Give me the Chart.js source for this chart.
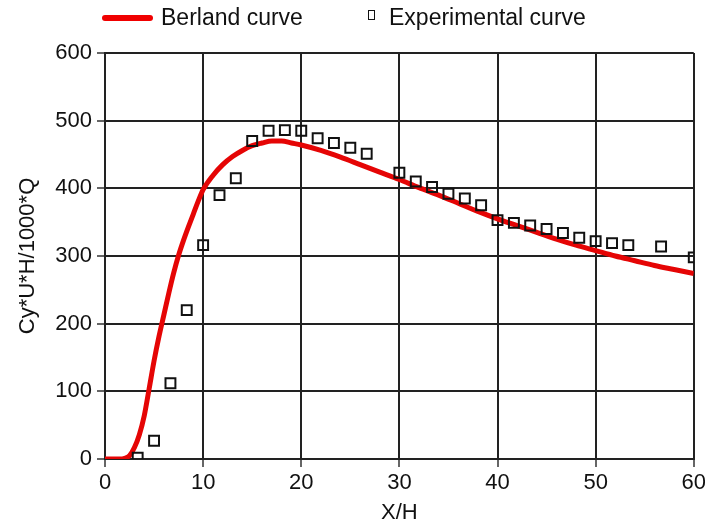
<!DOCTYPE html>
<html>
<head>
<meta charset="utf-8">
<script src="https://cdn.jsdelivr.net/npm/chart.js@4"></script>
<style>
  body { margin: 0; background: #fff; overflow: hidden; }
  #wrap { position: relative; width: 705px; height: 524px; overflow: hidden; }
  #legend { position: absolute; top: 0; left: 0; width: 705px; height: 36px;
    font-family: "Liberation Sans", Arial, sans-serif; font-size: 23px; color: #111; }
  .item { position: absolute; top: 4px; line-height: 26px; white-space: nowrap; }
  .swatch-line { position: absolute; left: 102px; top: 15px; width: 51px; height: 6px;
    border-radius: 3px; background: #f00000; }
  .swatch-box { position: absolute; left: 368px; top: 10px; width: 5px; height: 8px;
    border: 1.5px solid #111; }
</style>
</head>
<body>
<div id="wrap">
  <canvas id="chart" width="709" height="524"></canvas>
  <div id="legend">
    <span class="swatch-line"></span>
    <span class="item" style="left:161px">Berland curve</span>
    <span class="swatch-box"></span>
    <span class="item" style="left:389px">Experimental curve</span>
  </div>
</div>
<script>
// Berland curve
const berlandX = [0, 1, 1.5, 2, 2.5, 3, 3.5, 4, 4.5, 5, 5.5, 6, 6.5, 7, 7.5, 8, 8.5, 9, 9.5, 10,
  11, 12, 13, 14, 15, 16, 17, 18, 19, 20, 22, 24, 26, 28, 30, 32, 34, 36, 38, 40,
  42, 44, 46, 48, 50, 52, 54, 56, 58, 60];
const berlandY = [0, 0, 0, 1, 5, 17, 36, 64, 104, 145, 181, 213, 245, 275, 301, 323, 343, 362, 381, 398,
  419, 435, 447, 456, 463, 467, 470, 470, 467, 464, 456, 446, 435, 424, 413, 401, 390, 378, 366, 355,
  345, 335, 325, 316, 308, 300, 293, 286, 280, 274];

// experimental points
const expX = [3.33, 5, 6.67, 8.33, 10, 11.67, 13.33, 15, 16.67, 18.33, 20, 21.67, 23.33, 25, 26.67,
  30, 31.67, 33.33, 35, 36.67, 38.33, 40, 41.67, 43.33, 45, 46.67, 48.33, 50, 51.67, 53.33, 56.67, 60];
const expY = [2, 27, 112, 220, 316, 390, 415, 470, 485, 486, 485, 474, 467, 460, 451,
  423, 410, 402, 392, 385, 375, 353, 349, 345, 340, 334, 327, 322, 319, 316, 314, 298];

const xTicks = [0, 10, 20, 30, 40, 50, 60];
const yTicks = [0, 100, 200, 300, 400, 500, 600];

const font = "'Liberation Sans', Arial, sans-serif";
const gridColor = "#222";

const ctx = document.getElementById("chart").getContext("2d");
new Chart(ctx, {
  type: "scatter",
  data: {
    datasets: [
      {
        label: "Experimental curve",
        data: expX.map((x, i) => ({ x: x, y: expY[i] })),
        showLine: false,
        pointStyle: "rect",
        pointRadius: 7,
        pointBorderWidth: 2,
        pointBorderColor: "#111",
        pointBackgroundColor: "rgba(0,0,0,0)",
        order: 0
      },
      {
        label: "Berland curve",
        data: berlandX.map((x, i) => ({ x: x, y: berlandY[i] })),
        showLine: true,
        borderColor: "#e50505",
        borderWidth: 5,
        pointRadius: 0,
        cubicInterpolationMode: "monotone",
        order: 1
      }
    ]
  },
  options: {
    responsive: false,
    animation: false,
    layout: { padding: { top: 53, right: 0, left: 0, bottom: 0 } },
    plugins: {
      legend: { display: false },
      tooltip: { enabled: false }
    },
    scales: {
      x: {
        type: "linear",
        min: 0,
        max: 60,
        afterFit: s => { s.height = 65; },
        afterBuildTicks: s => { s.ticks = xTicks.map(v => ({ value: v })); },
        ticks: { color: "#111", padding: 3, font: { family: font, size: 22 } },
        grid: { color: gridColor, lineWidth: 2, tickLength: 8, tickColor: "#333", tickWidth: 1.5 },
        border: { color: gridColor, width: 2 },
        title: {
          display: true,
          text: "X/H",
          color: "#111",
          padding: { top: 0, bottom: 0 },
          font: { family: font, size: 22, lineHeight: 1 }
        }
      },
      y: {
        type: "linear",
        min: 0,
        max: 600,
        afterFit: s => { s.width = 105; },
        afterBuildTicks: s => { s.ticks = yTicks.map(v => ({ value: v })); },
        ticks: { color: "#111", padding: 5, font: { family: font, size: 22 } },
        grid: { color: gridColor, lineWidth: 2, tickLength: 8, tickColor: "#333", tickWidth: 1.5 },
        border: { color: gridColor, width: 2 },
        title: {
          display: true,
          text: "Cy*U*H/1000*Q",
          color: "#111",
          padding: { top: 15, bottom: 0 },
          font: { family: font, size: 22 }
        }
      }
    }
  }
});
</script>
</body>
</html>
